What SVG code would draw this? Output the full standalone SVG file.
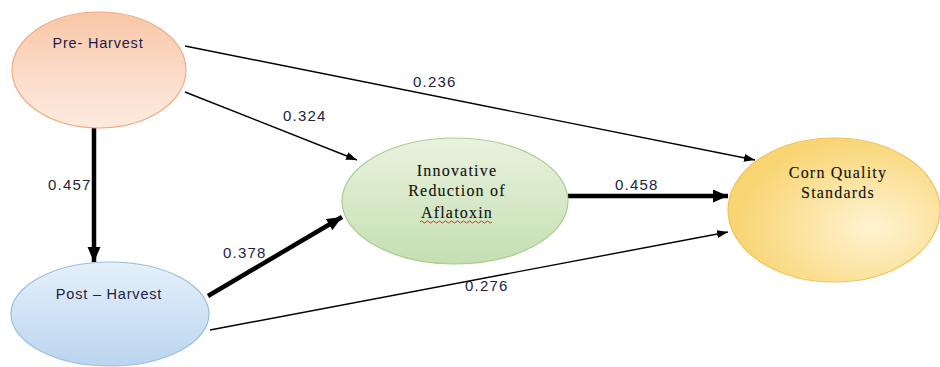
<svg xmlns="http://www.w3.org/2000/svg" width="940" height="367" viewBox="0 0 940 367">
<defs>
<linearGradient id="gPre" x1="0" y1="0" x2="0" y2="1">
<stop offset="0" stop-color="#f9c6a6"/><stop offset="0.55" stop-color="#fbdcc9"/><stop offset="1" stop-color="#fdebe0"/>
</linearGradient>
<linearGradient id="gPost" x1="0" y1="0" x2="0" y2="1">
<stop offset="0" stop-color="#e6f0fa"/><stop offset="1" stop-color="#bad5ef"/>
</linearGradient>
<linearGradient id="gInn" x1="0" y1="0" x2="0" y2="1">
<stop offset="0" stop-color="#e9f2df"/><stop offset="1" stop-color="#c5dfb1"/>
</linearGradient>
<radialGradient id="gCorn" cx="0.68" cy="0.62" r="0.65">
<stop offset="0" stop-color="#fff3d2"/><stop offset="1" stop-color="#f8d472"/>
</radialGradient>
<marker id="aThin" markerUnits="userSpaceOnUse" markerWidth="12" markerHeight="10" refX="11" refY="4" orient="auto">
<path d="M0,0 L11,4 L0,8 Z" fill="#000"/>
</marker>
<marker id="aThick" markerUnits="userSpaceOnUse" markerWidth="16" markerHeight="14" refX="15" refY="6.5" orient="auto">
<path d="M0,0 L15,6.5 L0,13 Z" fill="#000"/>
</marker>
</defs>
<style>
.lbl{font-family:"Liberation Sans",Arial,sans-serif;font-size:15px;fill:#1c2340;letter-spacing:1.2px}
.sn{font-family:"Liberation Sans",Arial,sans-serif;font-size:14.5px;fill:#1c2048;letter-spacing:0.8px}
.sf{font-family:"Liberation Serif","Times New Roman",serif;font-size:16px;fill:#111;stroke:#111;stroke-width:0.12;letter-spacing:1.2px}
.thin{stroke:#000;stroke-width:1.4;fill:none;marker-end:url(#aThin)}
.thick{stroke:#000;stroke-width:4.5;fill:none;marker-end:url(#aThick)}
</style>
<rect width="940" height="367" fill="#fff"/>
<g id="connectors">
<line class="thin" x1="185" y1="46" x2="755" y2="160"/>
<line class="thin" x1="185" y1="92" x2="357" y2="160"/>
<line class="thick" x1="94" y1="128" x2="94" y2="262"/>
<line class="thick" x1="208" y1="296" x2="342" y2="217"/>
<line class="thick" x1="568" y1="196" x2="728" y2="196"/>
<line class="thin" x1="210" y1="330" x2="728" y2="232"/>
<text class="lbl" x="413" y="87">0.236</text>
<text class="lbl" x="283" y="121">0.324</text>
<text class="lbl" x="48" y="190">0.457</text>
<text class="lbl" x="223" y="258">0.378</text>
<text class="lbl" x="615" y="190">0.458</text>
<text class="lbl" x="465" y="291">0.276</text>
</g>
<g id="pre-harvest">
<ellipse cx="99" cy="70" rx="87" ry="58" fill="url(#gPre)" stroke="#f1ab84" stroke-width="1.2"/>
<text class="sn" x="98" y="48" text-anchor="middle">Pre- Harvest</text>
</g>
<g id="post-harvest">
<ellipse cx="110" cy="314" rx="99" ry="52" fill="url(#gPost)" stroke="#98bde2" stroke-width="1.2"/>
<text class="sn" x="109" y="299" text-anchor="middle">Post – Harvest</text>
</g>
<g id="innovative">
<ellipse cx="455" cy="201" rx="113" ry="63" fill="url(#gInn)" stroke="#a9cc90" stroke-width="1.2"/>
<text class="sf" x="457" y="176" text-anchor="middle">Innovative</text>
<text class="sf" x="457" y="196" text-anchor="middle">Reduction of</text>
<text class="sf" x="457" y="218" text-anchor="middle">Aflatoxin</text>
<path d="M420,222 q1.5,-2 3,0 t3,0 t3,0 t3,0 t3,0 t3,0 t3,0 t3,0 t3,0 t3,0 t3,0 t3,0 t3,0 t3,0 t3,0 t3,0 t3,0 t3,0 t3,0 t3,0 t3,0 t3,0 t3,0 t3,0" fill="none" stroke="#e02020" stroke-width="0.9"/>
</g>
<g id="corn-quality">
<ellipse cx="834" cy="210" rx="106" ry="72" fill="url(#gCorn)" stroke="#efc35c" stroke-width="1.2"/>
<text class="sf" x="838" y="178" text-anchor="middle">Corn Quality</text>
<text class="sf" x="838" y="198" text-anchor="middle">Standards</text>
</g>
</svg>
